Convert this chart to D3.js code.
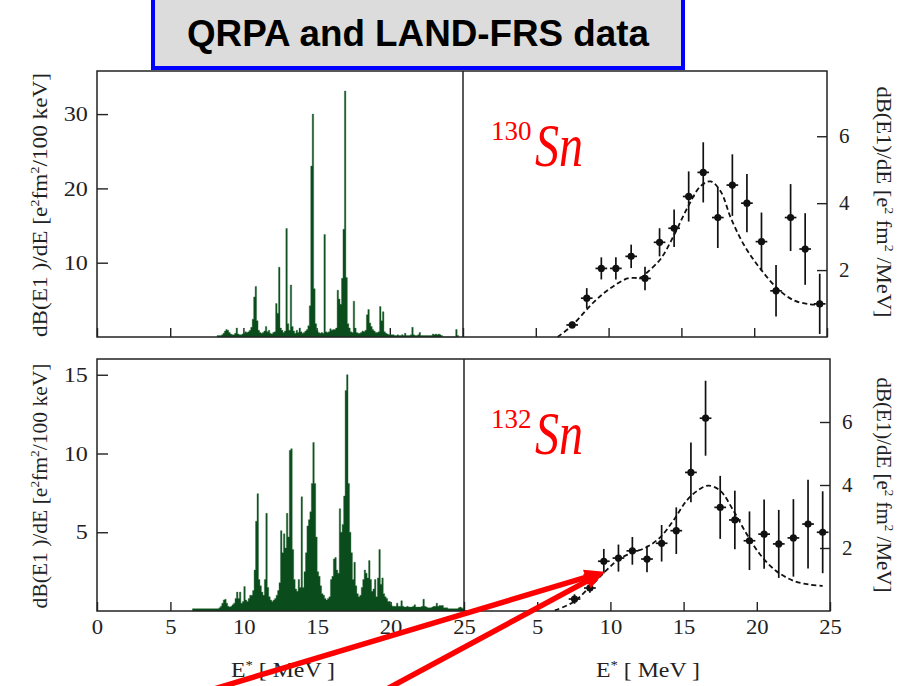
<!DOCTYPE html>
<html>
<head>
<meta charset="utf-8">
<style>
  body { margin: 0; background: #fff; }
  .frame { fill: none; stroke: #222; stroke-width: 1.5px; }
  .axis path { display: none; }
  .axis line { stroke: #222; stroke-width: 1.4px; }
  .axis text { font-family: "Liberation Serif", serif; font-size: 21px; fill: #222; }
  .lbl { font-family: "Liberation Serif", serif; font-size: 21px; fill: #222; }
</style>
</head>
<body>
<script src="https://d3js.org/d3.v7.min.js"></script>
<script>
var width = 912, height = 686;

// QRPA strength, 100 keV bins, 130Sn (starts at 8.2 MeV)
var qrpa130Start = 8.2, binWidth = 0.1;
var qrpa130 = [
  0.2, 0.2, 0.2, 0.3, 0.5, 0.8, 1.0, 0.9, 0.6, 0.4,
  0.3, 0.3, 0.5, 1.2, 0.4, 0.3, 0.3, 0.4, 0.5, 0.7,
  0.6, 0.7, 0.9, 1.3, 2.4, 5.4, 6.8, 2.2, 0.9, 0.6,
  0.5, 0.6, 0.8, 1.4, 0.7, 0.9, 0.5, 0.4, 0.6, 0.7,
  4.5, 3.2, 9.4, 1.2, 0.9, 0.6, 0.8, 14.6, 1.8, 0.9,
  7.0, 1.4, 0.8, 0.5, 0.9, 0.6, 1.2, 0.7, 0.5, 0.6,
  0.8, 1.0, 1.5, 4.2, 23.0, 30.0, 6.5, 1.8, 0.9, 0.6,
  0.5, 0.6, 0.5, 13.8, 0.7, 0.6, 0.7, 1.1, 0.9, 1.0,
  1.0, 1.2, 6.3, 5.1, 4.4, 7.9, 14.5, 33.1, 8.0, 1.8,
  1.2, 0.7, 0.6, 4.8, 1.2, 0.6, 0.5, 0.5, 0.6, 0.8,
  0.7, 0.9, 3.0, 3.7, 1.9, 1.4, 1.0, 0.8, 0.6, 0.6,
  0.7, 4.1, 2.2, 3.4, 0.7, 0.5, 0.4, 0.3, 0.3, 0.3,
  0.3, 0.2, 0.2, 0.3, 0.2, 0.2, 0.3, 0.2, 0.5, 0.2,
  0.2, 0.2, 0.3, 1.3, 0.3, 0.2, 0.2, 0.3, 0.6, 0.2,
  0.2, 0.2, 0.2, 0.2, 0.2, 0.2, 0.2, 0.4, 0.3, 0.4,
  0.3, 0.4, 0.3, 0.2, 0, 0, 0, 0, 0, 0,
  0, 0, 0, 1.0, 0.2
];

// QRPA strength, 100 keV bins, 132Sn (starts at 6.5 MeV)
var qrpa132Start = 6.5;
var qrpa132 = [
  0.15, 0.15, 0.15, 0.15, 0.15, 0.15, 0.15, 0.15, 0.15, 0.15,
  0.15, 0.15, 0.15, 0.15, 0.15, 0.15, 0.15, 0.15, 0.2, 0.3,
  0.5, 0.7, 0.75, 0.5, 0.3, 0.25, 0.3, 0.4, 0.5, 0.8,
  1.2, 0.8, 1.2, 0.5, 0.6, 1.55, 0.7, 0.6, 0.8, 1.0,
  1.0, 1.3, 2.6, 5.7, 7.45, 2.0, 1.6, 1.2, 1.0, 2.0,
  6.2, 1.5, 0.9, 0.7, 0.6, 0.7, 0.8, 1.0, 1.3, 1.8,
  5.1, 3.7, 4.9, 4.0, 6.2, 4.7, 10.2, 10.3, 3.9, 2.0,
  1.4, 1.25, 2.0, 1.5, 7.25, 1.5, 2.5, 3.7, 5.4, 5.8,
  6.3, 8.1, 10.7, 8.1, 4.7, 2.5, 2.2, 1.6, 1.1, 1.0,
  0.8, 0.7, 0.8, 0.9, 2.0, 2.2, 3.3, 3.4, 2.6, 2.4,
  6.5, 5.0, 5.5, 7.3, 14.0, 15.0, 8.1, 5.0, 3.7, 2.0,
  3.1, 1.6, 1.1, 0.9, 1.0, 1.5, 2.0, 2.6, 2.4, 2.1,
  3.2, 2.0, 1.25, 1.4, 2.0, 0.9, 2.1, 3.9, 1.7, 2.1,
  1.1, 0.9, 0.8, 0.6, 0.6, 0.4, 0.3, 0.3, 0.3, 0.5,
  0.3, 0.3, 0.65, 0.3, 0.25, 0.25, 0.3, 0.25, 0.25, 0.25,
  0.3, 0.4, 0.25, 0.25, 0.25, 0.25, 0.3, 0.75, 0.3, 0.25,
  0.2, 0.2, 0.2, 0.25, 0.3, 0.3, 0.5, 0.3, 0.35, 0.35,
  0.35, 0.2, 0.2, 0.2, 0.15, 0.15, 0.15, 0.15, 0.15, 0.15,
  0.15, 0.2, 0.25, 0.2, 0.15
];

// LAND-FRS data: [E* (MeV), dB/dE, error]
var lfrs130 = [
  [7.5, 0.36, 0.1], [8.5, 1.16, 0.3], [9.5, 2.05, 0.33], [10.5, 2.05, 0.33],
  [11.55, 2.41, 0.35], [12.5, 1.75, 0.35], [13.5, 2.83, 0.42], [14.5, 3.25, 0.56],
  [15.5, 4.2, 0.75], [16.5, 4.92, 0.9], [17.5, 3.57, 0.91], [18.5, 4.54, 0.92],
  [19.5, 4.0, 0.87], [20.5, 2.85, 0.87], [21.5, 1.38, 0.77], [22.5, 3.57, 1.0],
  [23.5, 2.63, 1.07], [24.5, 0.99, 0.9]
];
var lfrs132 = [
  [7.55, 0.38, 0.15], [8.6, 0.73, 0.15], [9.55, 1.58, 0.39], [10.55, 1.68, 0.43],
  [11.5, 1.91, 0.44], [12.5, 1.65, 0.42], [13.5, 2.15, 0.58], [14.5, 2.55, 0.74],
  [15.5, 4.4, 0.95], [16.5, 6.12, 1.19], [17.5, 3.29, 1.0], [18.5, 2.89, 0.93],
  [19.5, 2.23, 0.93], [20.5, 2.44, 1.1], [21.5, 2.13, 1.08], [22.5, 2.32, 1.23],
  [23.5, 2.76, 1.41], [24.5, 2.5, 1.3]
];
var eHalfBin = 0.4;

// folded QRPA curves (dashed)
var curve130 = [
  [6.5, 0], [7.5, 0.35], [9.0, 1.05], [10.1, 1.45], [11.3, 1.75], [12.2, 1.78],
  [12.7, 1.95], [13.6, 2.35], [14.5, 3.05], [15.4, 3.85], [16.3, 4.5], [17.0, 4.65],
  [17.7, 4.35], [18.4, 3.55], [19.3, 2.75], [20.4, 2.05], [21.6, 1.45], [22.7, 1.1],
  [23.8, 0.98], [24.5, 0.97]
];
var curve132 = [
  [6.2, 0.02], [7.45, 0.28], [8.8, 0.86], [9.7, 1.28], [10.6, 1.65], [11.55, 1.86],
  [12.45, 2.02], [13.4, 2.34], [14.3, 2.87], [15.2, 3.5], [16.1, 3.87], [16.7, 3.98],
  [17.5, 3.82], [18.4, 3.19], [19.3, 2.45], [20.2, 1.81], [21.3, 1.28], [22.5, 0.96],
  [23.6, 0.84], [24.5, 0.8]
];

var xTicks = [0, 5, 10, 15, 20, 25];
var xTicksRight = [5, 10, 15, 20, 25];
var yTicks130 = [10, 20, 30], yTicks132 = [5, 10, 15], yTicksExp = [2, 4, 6];
var isotopes = ["130", "132"];
var titleText = "QRPA and LAND-FRS data";

var svg = d3.select("body").append("svg")
    .attr("width", width)
    .attr("height", height);
svg.append("rect").attr("width", width).attr("height", height).attr("fill", "#fff");

// title box
svg.append("rect")
    .attr("x", 153).attr("y", -3).attr("width", 530).attr("height", 71)
    .attr("fill", "#dcdcdc").attr("stroke", "#0000ff").attr("stroke-width", 4);
svg.append("text")
    .attr("x", 418).attr("y", 46)
    .attr("text-anchor", "middle")
    .attr("textLength", 462).attr("lengthAdjust", "spacingAndGlyphs")
    .style("font-family", "'Liberation Sans', Arial, sans-serif")
    .style("font-weight", "bold").style("font-size", "37px")
    .text(titleText);

var rows = [
  { spec: qrpa130, start: qrpa130Start, exp: lfrs130, curve: curve130, iso: isotopes[0],
    top: 71, bottom: 337, left: 97, mid: 463, right: 827,
    yMaxL: 35.8, yMaxR: 7.95, yTicksL: yTicks130, labels: false,
    lLen: 264, lMid: 205, rLen: 231, rMid: 202 },
  { spec: qrpa132, start: qrpa132Start, exp: lfrs132, curve: curve132, iso: isotopes[1],
    top: 359, bottom: 611, left: 97, mid: 464, right: 830,
    yMaxL: 16, yMaxR: 8, yTicksL: yTicks132, labels: true,
    lLen: 245, lMid: 486, rLen: 215, rMid: 485 }
];

function supText(sel, parts, shift) {
  parts.forEach(function(p) {
    var t = sel.append("tspan").text(p[0]);
    if (p[1]) t.attr("dy", -shift).style("font-size", "13px");
    else if (p[2]) t.attr("dy", shift);
  });
}

rows.forEach(function(r) {
  var xL = d3.scaleLinear().domain([0, 25]).range([r.left, r.mid]);
  var xR = d3.scaleLinear().domain([0, 25]).range([r.mid, r.right]);
  var yL = d3.scaleLinear().domain([0, r.yMaxL]).range([r.bottom, r.top]);
  var yR = d3.scaleLinear().domain([0, r.yMaxR]).range([r.bottom, r.top]);
  r.xR = xR; r.yR = yR;

  // axes (ticks inside)
  svg.append("g").attr("class", "axis")
      .attr("transform", "translate(" + r.left + ",0)")
      .call(d3.axisLeft(yL).tickValues(r.yTicksL).tickSize(-11).tickPadding(8))
      .selectAll("text").attr("transform", "scale(1.15,1)");
  svg.append("g").attr("class", "axis")
      .attr("transform", "translate(" + r.right + ",0)")
      .call(d3.axisRight(yR).tickValues(yTicksExp).tickSize(-10).tickPadding(12));
  svg.append("g").attr("class", "axis")
      .attr("transform", "translate(0," + r.bottom + ")")
      .call(d3.axisBottom(xL).tickValues(xTicks).tickSize(-9).tickPadding(8)
        .tickFormat(r.labels ? d3.format("d") : ""))
      .selectAll("text").attr("transform", "scale(1.08,1)");
  svg.append("g").attr("class", "axis")
      .attr("transform", "translate(0," + r.bottom + ")")
      .call(d3.axisBottom(xR).tickValues(xTicksRight).tickSize(-9).tickPadding(8)
        .tickFormat(r.labels ? d3.format("d") : ""))
      .selectAll("text").attr("transform", "scale(1.08,1)");

  // QRPA spectrum
  var bins = r.spec.map(function(v, i) { return { e: r.start + i * binWidth, v: v }; });
  bins.push({ e: r.start + r.spec.length * binWidth, v: 0 });
  var area = d3.area()
      .curve(d3.curveStepAfter)
      .x(function(d) { return xL(d.e); })
      .y0(yL(0))
      .y1(function(d) { return yL(d.v); });
  svg.append("path").datum(bins)
      .attr("d", area)
      .attr("fill", "#0b4c1c")
      .attr("stroke", "#2c6a38").attr("stroke-width", 0.4);

  // dashed folded curve
  var line = d3.line()
      .curve(d3.curveCatmullRom)
      .x(function(d) { return xR(d[0]); })
      .y(function(d) { return yR(d[1]); });
  svg.append("path").datum(r.curve)
      .attr("d", line)
      .attr("fill", "none").attr("stroke", "#111")
      .attr("stroke-width", 1.8).attr("stroke-dasharray", "5,3");

  // data points with error bars
  var pts = svg.append("g").selectAll("g").data(r.exp).enter().append("g");
  pts.append("line")
      .attr("x1", function(d) { return xR(d[0]); })
      .attr("x2", function(d) { return xR(d[0]); })
      .attr("y1", function(d) { return yR(Math.max(0, d[1] - d[2])); })
      .attr("y2", function(d) { return yR(d[1] + d[2]); })
      .attr("stroke", "#111").attr("stroke-width", 1.7);
  pts.append("line")
      .attr("x1", function(d) { return xR(d[0] - eHalfBin); })
      .attr("x2", function(d) { return xR(d[0] + eHalfBin); })
      .attr("y1", function(d) { return yR(d[1]); })
      .attr("y2", function(d) { return yR(d[1]); })
      .attr("stroke", "#111").attr("stroke-width", 1.7);
  pts.append("circle")
      .attr("cx", function(d) { return xR(d[0]); })
      .attr("cy", function(d) { return yR(d[1]); })
      .attr("r", 3.6).attr("fill", "#111");

  // frames
  svg.append("rect").attr("class", "frame")
      .attr("x", r.left).attr("y", r.top)
      .attr("width", r.right - r.left).attr("height", r.bottom - r.top);
  svg.append("line").attr("class", "frame")
      .attr("x1", r.mid).attr("x2", r.mid).attr("y1", r.top).attr("y2", r.bottom);

  // axis titles
  var tl = svg.append("text").attr("class", "lbl")
      .attr("transform", "translate(47," + r.lMid + ") rotate(-90)")
      .attr("text-anchor", "middle")
      .attr("textLength", r.lLen).attr("lengthAdjust", "spacingAndGlyphs");
  supText(tl, [["dB(E1 )/dE [e"], ["2", true], ["fm", false, true], ["2", true], ["/100 keV]", false, true]], 8);
  var tr = svg.append("text").attr("class", "lbl")
      .attr("transform", "translate(877," + r.rMid + ") rotate(90)")
      .attr("text-anchor", "middle")
      .attr("textLength", r.rLen).attr("lengthAdjust", "spacingAndGlyphs");
  supText(tr, [["dB(E1)/dE [e"], ["2", true], [" fm", false, true], ["2", true], [" /MeV]", false, true]], 8);

  // isotope label
  var iso = svg.append("g").style("fill", "#ff0000").style("font-family", "'Liberation Serif', serif");
  iso.append("text").attr("x", 491).attr("y", r.top + 69).style("font-size", "27px").text(r.iso);
  iso.append("text").attr("x", 535).attr("y", r.top + 95)
      .style("font-size", "62px").style("font-style", "italic")
      .attr("textLength", 48).attr("lengthAdjust", "spacingAndGlyphs")
      .text("Sn");
});

// x axis titles
[283, 648].forEach(function(cx) {
  var t = svg.append("text").attr("class", "lbl")
      .attr("x", cx).attr("y", 677).attr("text-anchor", "middle")
      .style("font-size", "21px")
      .attr("textLength", 104).attr("lengthAdjust", "spacingAndGlyphs");
  supText(t, [["E"], ["*", true], [" [ MeV ]", false, true]], 8);
});

// red arrows pointing at the 132Sn low-energy data
var br = rows[1];
var tip = [br.xR(9.6), br.yR(1.25)];
var arrowStarts = [[204, 692], [372, 697]];
arrowStarts.forEach(function(s) {
  var dx = tip[0] - s[0], dy = tip[1] - s[1];
  var len = Math.sqrt(dx * dx + dy * dy), ux = dx / len, uy = dy / len;
  var hl = 20, hw = 8;
  var bx = tip[0] - ux * hl, by = tip[1] - uy * hl;
  svg.append("line")
      .attr("x1", s[0]).attr("y1", s[1]).attr("x2", bx + ux * 2).attr("y2", by + uy * 2)
      .attr("stroke", "#ff0000").attr("stroke-width", 5.5);
  svg.append("path")
      .attr("d", "M" + tip[0] + "," + tip[1] +
                 "L" + (bx - uy * hw) + "," + (by + ux * hw) +
                 "L" + (bx + uy * hw) + "," + (by - ux * hw) + "Z")
      .attr("fill", "#ff0000");
});
</script>
</body>
</html>
